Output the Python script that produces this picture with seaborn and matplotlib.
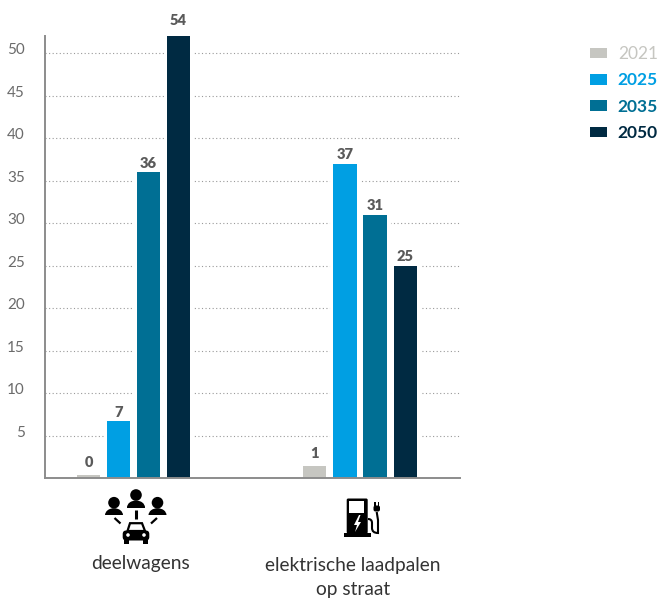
import matplotlib
matplotlib.use("Agg")
import matplotlib.patheffects as pe
import matplotlib.pyplot as plt
import pandas as pd
import seaborn as sns
from matplotlib.patches import Circle, Ellipse, FancyBboxPatch, PathPatch, Polygon, Rectangle
from matplotlib.path import Path
from matplotlib.transforms import ScaledTranslation

# Percentages per scenario year
categories = ["deelwagens", "elektrische laadpalen\nop straat"]
years = ["2021", "2025", "2035", "2050"]
deelwagens = [0.3, 6.7, 36, 54]
laadpalen = [1.4, 37, 31, 25]
y_ticks = [5, 10, 15, 20, 25, 30, 35, 40, 45, 50]
colors = ["#C6C6C1", "#009FE3", "#006F94", "#002A42"]
y_top = 52

sns.set_theme(style="white")
plt.rcParams["font.family"] = ["Lato", "DejaVu Sans"]

W, H = 660, 598
fig = plt.figure(figsize=(W / 100, H / 100), dpi=100)
ax = fig.add_axes([45 / W, (H - 478) / H, 415 / W, 442 / H])

df = pd.DataFrame({
    "categorie": [categories[0]] * 4 + [categories[1]] * 4,
    "jaar": years * 2,
    "waarde": deelwagens + laadpalen,
})
sns.barplot(data=df, x="categorie", y="waarde", hue="jaar", order=categories,
            hue_order=years, palette=colors, width=0.53, gap=0.233,
            saturation=1, legend=False, ax=ax, zorder=3, linewidth=0, edgecolor="none")

ax.set_xlim(-0.3907, 1.4415)
ax.set_ylim(0, y_top)
ax.set_xlabel("")
ax.set_ylabel("")
ax.set_xticks([])
ax.set_yticks(y_ticks)
ax.tick_params(axis="y", length=0, pad=14.5, labelsize=11, labelcolor="#6B6B6B")
up = ScaledTranslation(0, 3 / 72, fig.dpi_scale_trans)
for lab in ax.get_yticklabels():
    lab.set_transform(lab.get_transform() + up)

ax.grid(axis="y", color="#9A9A9A", linestyle=(0, (1, 2.2)), linewidth=0.8, zorder=1)
sns.despine(ax=ax)
for side in ("left", "bottom"):
    ax.spines[side].set_color("#8C8C8C")
    ax.spines[side].set_linewidth(1.4)
    ax.spines[side].set_zorder(4)

# Value labels; a bar cut off by the axis keeps its label above the plot area.
# A white halo keeps the dotted grid away from the bars.
for container in ax.containers:
    for bar in container:
        bar.set_path_effects([pe.withStroke(linewidth=5, foreground="white")])
        value = bar.get_height()
        top = min(value, y_top)
        gap = 6.5 if value > y_top else (4.5 if value < 2 else 1.5)
        ax.annotate(f"{value:.0f}", (bar.get_x() + bar.get_width() / 2, top),
                    xytext=(0, gap), textcoords="offset points", ha="center",
                    va="bottom", fontsize=10.5, fontweight="heavy", color="#5A5A5A",
                    annotation_clip=False, zorder=5)

# Legend in the top right corner, each label in its series colour
legend = fig.legend(ax.containers, years, loc="upper left",
                    bbox_to_anchor=(590 / W, 1 - 46 / H), bbox_transform=fig.transFigure,
                    frameon=False, handlelength=1.0, handleheight=0.55,
                    handletextpad=0.6, labelspacing=0.6, borderpad=0, borderaxespad=0,
                    labelcolor=colors, prop={"size": 12.5, "weight": "bold"})
legend.get_texts()[0].set_fontweight("normal")
for handle in legend.legend_handles:
    handle.set_path_effects([])

# Overlay in pixel coordinates for the category captions and pictograms
ov = fig.add_axes([0, 0, 1, 1], facecolor="none")
ov.set_xlim(0, W)
ov.set_ylim(H, 0)
ov.axis("off")
ov.text(140, 563, categories[0], ha="center", va="center", fontsize=13.8, color="#333333")
ov.text(353, 577, categories[1], ha="center", va="center", fontsize=13.8, color="#333333",
        linespacing=1.5)

ink = "#000000"


def person(cx, head_y):
    ov.add_patch(Circle((cx, head_y), 5.8, color=ink, lw=0))
    shoulders = Ellipse((cx, head_y + 12.5), 18, 14, color=ink, lw=0)
    ov.add_patch(shoulders)
    shoulders.set_clip_path(Rectangle((cx - 10, head_y + 4), 20, 8.5, transform=ov.transData))


person(114, 502.7)
person(136, 495)
person(157.5, 502.7)
ov.plot([136, 136], [510, 518.5], color=ink, lw=2.2, solid_capstyle="butt")
ov.plot([114.5, 120.5], [518, 523.5], color=ink, lw=1.6, solid_capstyle="butt")
ov.plot([157, 151], [518, 523.5], color=ink, lw=1.6, solid_capstyle="butt")

# Car
ov.add_patch(Polygon([[127.5, 531], [130, 523.2], [142, 523.2], [145, 531]], closed=True,
                     facecolor="white", edgecolor=ink, lw=1.6))
ov.add_patch(FancyBboxPatch((122.7, 530.5), 26.6, 10, boxstyle="round,pad=0,rounding_size=3.5",
                            color=ink, lw=0))
ov.add_patch(Rectangle((124, 539.5), 5, 4, color=ink, lw=0))
ov.add_patch(Rectangle((143, 539.5), 5, 4, color=ink, lw=0))
ov.add_patch(Circle((128, 535), 1.8, color="white", lw=0))
ov.add_patch(Circle((144, 535), 1.8, color="white", lw=0))

# Charging station
ov.add_patch(FancyBboxPatch((346.7, 498.5), 21, 35, boxstyle="round,pad=0,rounding_size=1.5",
                            color=ink, lw=0))
ov.add_patch(Rectangle((344.3, 533), 26.4, 3.6, color=ink, lw=0))
ov.add_patch(Rectangle((349.3, 501), 14.7, 12, color="white", lw=0))
ov.add_patch(Polygon([[359, 515], [354, 525], [357, 525], [355, 532], [361, 522], [358, 522],
                      [360.5, 515]], closed=True, color="white", lw=0))
cable = Path([(368, 519), (372, 519), (372, 523), (372, 528), (372, 533), (378, 533),
              (378, 528), (378, 520), (376.7, 512)],
             [Path.MOVETO, Path.CURVE3, Path.CURVE3, Path.LINETO, Path.CURVE3, Path.CURVE3,
              Path.LINETO, Path.LINETO, Path.LINETO])
ov.add_patch(PathPatch(cable, facecolor="none", edgecolor=ink, lw=1.5))
ov.add_patch(FancyBboxPatch((373.5, 505.5), 6.5, 6, boxstyle="round,pad=0,rounding_size=2",
                            color=ink, lw=0))
ov.add_patch(Rectangle((374.3, 501.5), 1.5, 4, color=ink, lw=0))
ov.add_patch(Rectangle((377.7, 501.5), 1.5, 4, color=ink, lw=0))

fig.savefig("out.png", dpi=100, facecolor="white")
